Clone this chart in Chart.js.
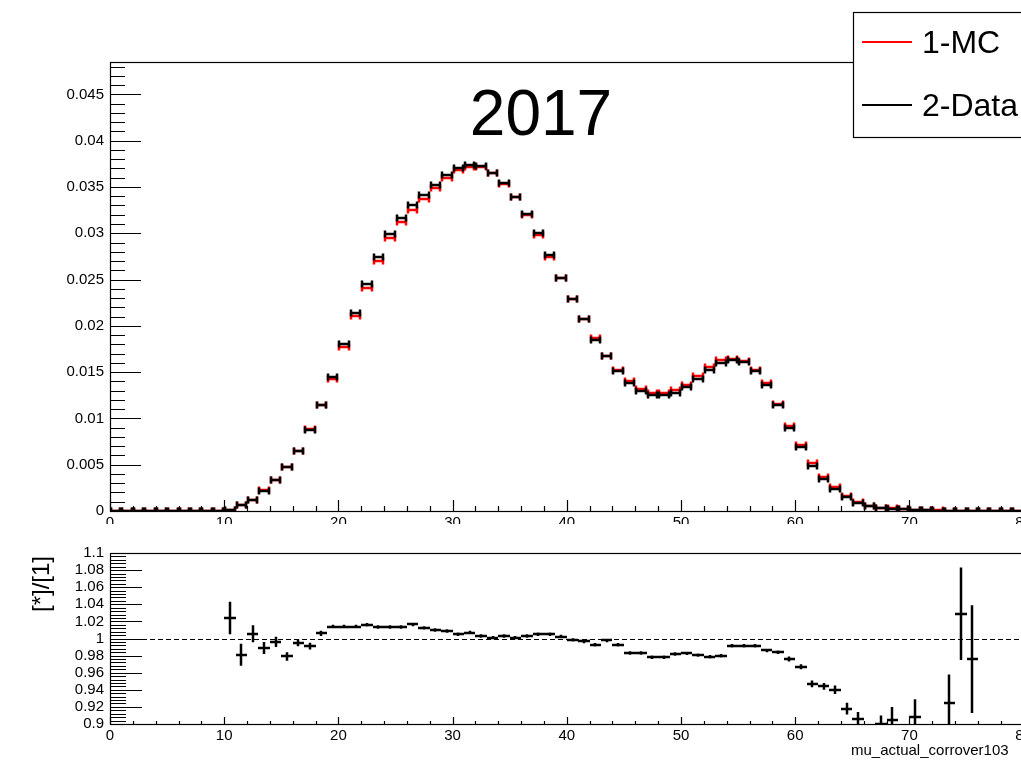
<!DOCTYPE html>
<html>
<head>
<meta charset="utf-8">
<script src="https://cdn.jsdelivr.net/npm/chart.js@4.4.0/dist/chart.umd.min.js"></script>
<style>
  html, body { margin: 0; padding: 0; background: #fff; overflow: hidden; width: 1021px; height: 762px; }
  #mainPad { position: absolute; left: 0; top: 0; }
  #ratioPad { position: absolute; left: 0; top: 526px; }
</style>
</head>
<body>
<canvas id="mainPad" width="1300" height="526"></canvas>
<canvas id="ratioPad" width="1300" height="236"></canvas>
<script>
// ---- histogram binning: 100 bins of width 1 on [0, 100] ----
const binLow = 0;
const binWidth = 1;

// ---- normalised distributions per bin ----
const mcValues = [
  0, 0, 0, 0, 0, 0, 0, 0, 0, 0,
  0.000146, 0.000693, 0.001193, 0.002224, 0.003313, 0.004801, 0.006533, 0.00888, 0.011431, 0.0143,
  0.017751, 0.021105, 0.024114, 0.027035, 0.029502, 0.031179, 0.032468, 0.033682, 0.034851, 0.035983,
  0.036816, 0.03714, 0.037188, 0.036464, 0.035294, 0.033866, 0.032004, 0.029851, 0.027463, 0.025142,
  0.022937, 0.020773, 0.018636, 0.016738, 0.015211, 0.014039, 0.013225, 0.012781, 0.012781, 0.013037,
  0.013637, 0.014583, 0.015531, 0.01633, 0.01644, 0.016238, 0.015229, 0.013793, 0.011585, 0.009221,
  0.007135, 0.005174, 0.003708, 0.002553, 0.001634, 0.000993, 0.00057, 0.000333, 0.000276, 0.00021,
  0.000132, 0.00009, 0.00006, 0.000043, 0.000029, 0.000021, 0, 0, 0, 0,
  0, 0, 0, 0, 0, 0, 0, 0, 0, 0,
  0, 0, 0, 0, 0, 0, 0, 0, 0, 0
];

const dataValues = [
  0, 0, 0, 0, 0, 0, 0, 0, 0, 0,
  0.00015, 0.00068, 0.0012, 0.0022, 0.0033, 0.0047, 0.0065, 0.0088, 0.0115, 0.0145,
  0.0180, 0.0214, 0.0245, 0.0274, 0.0299, 0.0316, 0.0330, 0.0341, 0.0352, 0.0363,
  0.0370, 0.0374, 0.0373, 0.0365, 0.0354, 0.0339, 0.0321, 0.0300, 0.0276, 0.0252,
  0.0229, 0.0207, 0.0185, 0.0167, 0.0151, 0.0138, 0.0130, 0.0125, 0.0125, 0.0128,
  0.0134, 0.0143, 0.0152, 0.0160, 0.0163, 0.0161, 0.0151, 0.0136, 0.0114, 0.0090,
  0.0069, 0.0049, 0.0035, 0.0024, 0.0015, 0.0009, 0.0005, 0.0003, 0.00025, 0.00018,
  0.00012, 0.00008, 0.00005, 0.00004, 0.00003, 0.00002, 0, 0, 0, 0,
  0, 0, 0, 0, 0, 0, 0, 0, 0, 0,
  0, 0, 0, 0, 0, 0, 0, 0, 0, 0
];

// ---- Data / MC ratio and its uncertainty per bin ----
const ratioValues = [
  null, null, null, null, null, null, null, null, null, null,
  1.024, 0.981, 1.0055, 0.989, 0.996, 0.979, 0.995, 0.991, 1.006, 1.014,
  1.014, 1.014, 1.016, 1.0135, 1.0135, 1.0135, 1.0164, 1.0124, 1.010, 1.0088,
  1.005, 1.007, 1.003, 1.001, 1.003, 1.001, 1.003, 1.005, 1.005, 1.0023,
  0.9984, 0.9965, 0.9927, 0.9977, 0.9927, 0.983, 0.983, 0.978, 0.978, 0.9818,
  0.9826, 0.9806, 0.9787, 0.9798, 0.9915, 0.9915, 0.9915, 0.986, 0.984, 0.976,
  0.967, 0.947, 0.944, 0.940, 0.918, 0.906, null, 0.900, 0.905, null,
  0.908, null, null, 0.925, 1.029, 0.976, null, null, null, null,
  null, null, null, null, null, null, null, null, null, null,
  null, null, null, null, null, null, null, null, null, null
];

const ratioErrors = [
  null, null, null, null, null, null, null, null, null, null,
  0.019, 0.013, 0.010, 0.007, 0.006, 0.005, 0.004, 0.004, 0.003, 0.002,
  0.002, 0.002, 0.002, 0.002, 0.002, 0.002, 0.002, 0.002, 0.002, 0.002,
  0.002, 0.002, 0.002, 0.002, 0.002, 0.002, 0.002, 0.002, 0.002, 0.002,
  0.002, 0.002, 0.002, 0.002, 0.002, 0.002, 0.002, 0.002, 0.002, 0.002,
  0.002, 0.002, 0.002, 0.002, 0.002, 0.002, 0.002, 0.002, 0.002, 0.003,
  0.003, 0.004, 0.004, 0.005, 0.007, 0.008, null, 0.010, 0.015, null,
  0.021, null, null, 0.033, 0.054, 0.063, null, null, null, null,
  null, null, null, null, null, null, null, null, null, null,
  null, null, null, null, null, null, null, null, null, null
];

// ---- axis tick labels ----
const xTickValues = [0, 10, 20, 30, 40, 50, 60, 70, 80, 90, 100];
const mainYTickValues = [0, 0.005, 0.01, 0.015, 0.02, 0.025, 0.03, 0.035, 0.04, 0.045];
const ratioYTickValues = [0.9, 0.92, 0.94, 0.96, 0.98, 1, 1.02, 1.04, 1.06, 1.08, 1.1];

const titleText = '2017';
const ratioAxisTitle = '[*]/[1]';
const xAxisTitle = 'mu_actual_corrover103';

const FONT = '"Liberation Sans", Arial, Helvetica, sans-serif';

function toPoints(values) {
  return values.map((v, i) => ({ x: binLow + (i + 0.5) * binWidth, y: v }));
}

function fmt(v) {
  return String(Number(v.toFixed(4)));
}

// histogram markers: horizontal bar across the bin with small end caps
function drawBins(ctx, xs, ys, points, color, capHalf) {
  ctx.strokeStyle = color;
  ctx.lineWidth = 2.5;
  ctx.beginPath();
  points.forEach(p => {
    if (p.y == null) return;
    const x0 = Math.round(xs.getPixelForValue(p.x - binWidth / 2));
    const x1 = Math.round(xs.getPixelForValue(p.x + binWidth / 2));
    const y = Math.round(ys.getPixelForValue(p.y));
    ctx.moveTo(x0, y); ctx.lineTo(x1, y);
    if (capHalf > 0) {
      ctx.moveTo(x0 + 1, y - capHalf); ctx.lineTo(x0 + 1, y + capHalf);
      ctx.moveTo(x1 - 1, y - capHalf); ctx.lineTo(x1 - 1, y + capHalf);
    }
  });
  ctx.stroke();
}

// ROOT-like frame with ticks pointing into the plot
function drawFrameAndTicks(ctx, area, xs, ys, cfg) {
  ctx.save();
  ctx.strokeStyle = '#000';
  ctx.lineWidth = 1.2;
  ctx.strokeRect(area.left + 0.5, area.top + 0.5, area.right - area.left, area.bottom - area.top);
  ctx.beginPath();
  // y axis ticks
  for (let v = ys.min; v <= ys.max + 1e-9; v += cfg.yMinorStep) {
    const y = Math.round(ys.getPixelForValue(v)) + 0.5;
    const isMajor = Math.abs(Math.round(v / cfg.yMajorStep) * cfg.yMajorStep - v) < 1e-7;
    ctx.moveTo(area.left, y);
    ctx.lineTo(area.left + (isMajor ? cfg.yMajorLen : cfg.yMinorLen), y);
  }
  // x axis ticks
  for (let v = xs.min; v <= xs.max + 1e-9; v += cfg.xMinorStep) {
    const x = Math.round(xs.getPixelForValue(v)) + 0.5;
    const isMajor = Math.abs(Math.round(v / cfg.xMajorStep) * cfg.xMajorStep - v) < 1e-7;
    ctx.moveTo(x, area.bottom);
    ctx.lineTo(x, area.bottom - (isMajor ? cfg.xMajorLen : cfg.xMinorLen));
  }
  ctx.stroke();
  ctx.restore();
}

const mainDecor = {
  id: 'mainDecor',
  afterDatasetsDraw(chart) {
    const { ctx, chartArea: a, scales: { x, y } } = chart;
    ctx.save();
    ctx.beginPath();
    ctx.rect(a.left, a.top - 4, a.right - a.left, a.bottom - a.top + 4);
    ctx.clip();
    chart.data.datasets.forEach(ds => drawBins(ctx, x, y, ds.data, ds.borderColor, 3.5));
    ctx.restore();

    drawFrameAndTicks(ctx, a, x, y, {
      yMinorStep: 0.001, yMajorStep: 0.005, yMajorLen: 31, yMinorLen: 15,
      xMinorStep: 2, xMajorStep: 10, xMajorLen: 11, xMinorLen: 5
    });

    // title
    ctx.save();
    ctx.fillStyle = '#000';
    ctx.font = '64px ' + FONT;
    ctx.textAlign = 'center';
    ctx.textBaseline = 'alphabetic';
    ctx.fillText(titleText, 541, 135);
    ctx.restore();

    // legend
    ctx.save();
    const lx = 853, ly = 12, lw = 300, lh = 125;
    ctx.fillStyle = '#fff';
    ctx.fillRect(lx, ly, lw, lh);
    ctx.strokeStyle = '#000';
    ctx.lineWidth = 1.2;
    ctx.strokeRect(lx + 0.5, ly + 0.5, lw, lh);
    const rows = [42, 105];
    chart.data.datasets.forEach((ds, i) => {
      ctx.strokeStyle = ds.borderColor;
      ctx.lineWidth = 2;
      ctx.beginPath();
      ctx.moveTo(862, rows[i]);
      ctx.lineTo(912, rows[i]);
      ctx.stroke();
      ctx.fillStyle = '#000';
      ctx.font = '32px ' + FONT;
      ctx.textAlign = 'left';
      ctx.textBaseline = 'middle';
      ctx.fillText(ds.label, 922, rows[i] + 2);
    });
    ctx.restore();
  }
};

const ratioDecor = {
  id: 'ratioDecor',
  afterDatasetsDraw(chart) {
    const { ctx, chartArea: a, scales: { x, y } } = chart;
    // reference line at unity
    ctx.save();
    ctx.strokeStyle = '#000';
    ctx.lineWidth = 1.2;
    ctx.setLineDash([5, 3]);
    ctx.beginPath();
    const y1 = Math.round(y.getPixelForValue(1)) + 0.5;
    ctx.moveTo(a.left, y1);
    ctx.lineTo(a.right, y1);
    ctx.stroke();
    ctx.restore();

    ctx.save();
    ctx.beginPath();
    ctx.rect(a.left, a.top, a.right - a.left, a.bottom - a.top);
    ctx.clip();
    const ds = chart.data.datasets[0];
    ctx.strokeStyle = ds.borderColor;
    ctx.lineWidth = 2.5;
    ctx.beginPath();
    ds.data.forEach((p, i) => {
      if (p.y == null) return;
      const err = ratioErrors[i] || 0;
      const x0 = Math.round(x.getPixelForValue(p.x - binWidth / 2));
      const x1 = Math.round(x.getPixelForValue(p.x + binWidth / 2));
      const xc = Math.round(x.getPixelForValue(p.x));
      const yc = Math.round(y.getPixelForValue(p.y));
      ctx.moveTo(x0, yc); ctx.lineTo(x1, yc);
      ctx.moveTo(xc, y.getPixelForValue(p.y + err));
      ctx.lineTo(xc, y.getPixelForValue(p.y - err));
    });
    ctx.stroke();
    ctx.restore();

    drawFrameAndTicks(ctx, a, x, y, {
      yMinorStep: 0.004, yMajorStep: 0.02, yMajorLen: 32, yMinorLen: 16,
      xMinorStep: 2, xMajorStep: 10, xMajorLen: 7, xMinorLen: 3
    });

    // axis titles
    ctx.save();
    ctx.fillStyle = '#000';
    ctx.font = '24px ' + FONT;
    ctx.translate(42, 58);
    ctx.rotate(-Math.PI / 2);
    ctx.textAlign = 'center';
    ctx.textBaseline = 'middle';
    ctx.fillText(ratioAxisTitle, 0, 0);
    ctx.restore();

    ctx.save();
    ctx.fillStyle = '#000';
    ctx.font = '15px ' + FONT;
    ctx.textAlign = 'left';
    ctx.textBaseline = 'alphabetic';
    ctx.fillText(xAxisTitle, 851, 229);
    ctx.restore();
  }
};

function xAxis(height) {
  return {
    type: 'linear', min: 0, max: 100,
    grid: { display: false, drawTicks: false },
    border: { display: false },
    afterBuildTicks(s) { s.ticks = xTickValues.map(v => ({ value: v })); },
    afterFit(s) { s.height = height; },
    ticks: {
      autoSkip: false, maxRotation: 0, minRotation: 0, padding: 3,
      color: '#000', font: { family: FONT, size: 15 },
      callback: v => fmt(v)
    }
  };
}

function yAxis(min, max, tickValues, size) {
  return {
    type: 'linear', min: min, max: max,
    grid: { display: false, drawTicks: false },
    border: { display: false },
    afterBuildTicks(s) { s.ticks = tickValues.map(v => ({ value: v })); },
    afterFit(s) { s.width = 110; },
    ticks: {
      autoSkip: false, padding: 6,
      color: '#000', font: { family: FONT, size: size },
      callback: v => fmt(v)
    }
  };
}

const common = {
  responsive: false,
  animation: false,
  events: [],
  plugins: { legend: { display: false }, tooltip: { enabled: false }, title: { display: false } }
};

new Chart(document.getElementById('mainPad'), {
  type: 'scatter',
  data: {
    datasets: [
      { label: '1-MC', data: toPoints(mcValues), borderColor: '#ff0000', pointRadius: 0, showLine: false },
      { label: '2-Data', data: toPoints(dataValues), borderColor: '#000000', pointRadius: 0, showLine: false }
    ]
  },
  options: Object.assign({}, common, {
    layout: { padding: { left: 0, top: 62, right: 48, bottom: 0 } },
    scales: {
      x: xAxis(13),
      y: yAxis(0, 0.0485, mainYTickValues, 15)
    }
  }),
  plugins: [mainDecor]
});

new Chart(document.getElementById('ratioPad'), {
  type: 'scatter',
  data: {
    datasets: [
      { label: 'ratio', data: toPoints(ratioValues), borderColor: '#000000', pointRadius: 0, showLine: false }
    ]
  },
  options: Object.assign({}, common, {
    layout: { padding: { left: 0, top: 27, right: 48, bottom: 0 } },
    scales: {
      x: xAxis(38),
      y: yAxis(0.9, 1.1, ratioYTickValues, 15)
    }
  }),
  plugins: [ratioDecor]
});
</script>
</body>
</html>
